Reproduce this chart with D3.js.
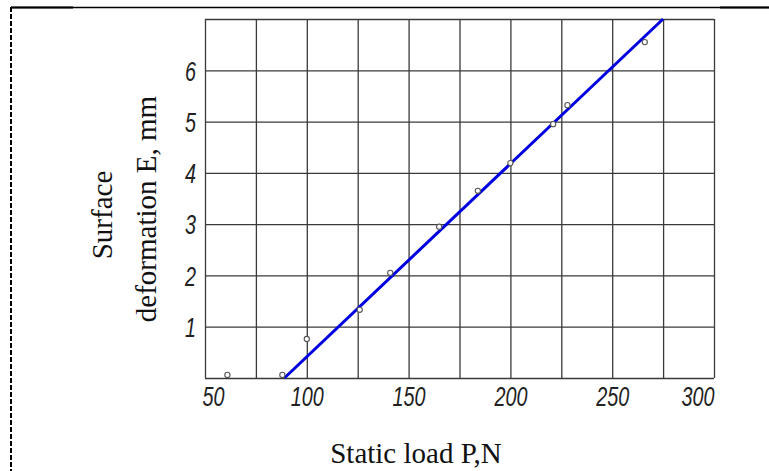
<!DOCTYPE html>
<html>
<head>
<meta charset="utf-8">
<script src="https://cdn.jsdelivr.net/npm/d3@7"></script>
<style>
  body { margin: 0; background: #fff; }
  .tick-label { font-family: "Liberation Sans Narrow", "Liberation Sans", sans-serif; font-style: italic; font-size: 27px; fill: #222; }
  .title { font-family: "Liberation Serif", "Times New Roman", serif; font-size: 29px; fill: #111; }
</style>
</head>
<body>
<div id="chart"></div>
<script>
// measured points: static load P (N) vs surface deformation E (mm)
const loadP   = [61, 88, 100, 126, 141, 165, 184, 200, 221, 228, 266]
const deformE = [0.06, 0.06, 0.76, 1.33, 2.05, 2.95, 3.65, 4.19, 4.95, 5.32, 6.55]

// fitted straight line, end points
const fitP = [89, 275]
const fitE = [0, 7]

const xTickLabels = [50, 100, 150, 200, 250, 300]
const yTickLabels = [1, 2, 3, 4, 5, 6]

const W = 769, H = 471
const MARGIN = { TOP: 19, BOTTOM: 93, LEFT: 205, RIGHT: 55 }
const WIDTH = W - MARGIN.LEFT - MARGIN.RIGHT
const HEIGHT = H - MARGIN.TOP - MARGIN.BOTTOM
const DIGIT_W = 11   // narrow drafting digits

const svg = d3.select("#chart").append("svg")
    .attr("width", W)
    .attr("height", H)

// page frame bits
svg.append("line")
    .attr("x1", 11).attr("x2", 769).attr("y1", 7.5).attr("y2", 7.5)
    .attr("stroke", "#000").attr("stroke-width", 1.3)
svg.append("line")
    .attr("x1", 11).attr("x2", 73).attr("y1", 7.5).attr("y2", 7.5)
    .attr("stroke", "#000").attr("stroke-width", 2.2)
svg.append("line")
    .attr("x1", 720).attr("x2", 769).attr("y1", 7.5).attr("y2", 7.5)
    .attr("stroke", "#000").attr("stroke-width", 2.2)
svg.append("line")
    .attr("x1", 11).attr("x2", 11).attr("y1", 7).attr("y2", H)
    .attr("stroke", "#000").attr("stroke-width", 2)
    .attr("stroke-dasharray", "5,2")

const g = svg.append("g")
    .attr("transform", `translate(${MARGIN.LEFT}, ${MARGIN.TOP})`)

const x = d3.scaleLinear().domain([50, 300]).range([0, WIDTH])
const y = d3.scaleLinear().domain([0, 7]).range([HEIGHT, 0])

// grid
g.append("g")
    .attr("transform", `translate(0, ${HEIGHT})`)
    .call(d3.axisBottom(x).tickValues(d3.range(50, 301, 25)).tickSize(-HEIGHT).tickFormat(""))
g.append("g")
    .call(d3.axisLeft(y).tickValues(d3.range(0, 8, 1)).tickSize(-WIDTH).tickFormat(""))
g.selectAll(".domain").remove()
g.selectAll(".tick line").attr("stroke", "#3a3a3a").attr("stroke-width", 1.3)

// tick labels
const xAxis = g.append("g")
    .attr("transform", `translate(0, ${HEIGHT})`)
    .call(d3.axisBottom(x).tickValues(xTickLabels).tickSize(0).tickPadding(0).tickFormat(d3.format("d")))
xAxis.select(".domain").remove()
xAxis.selectAll("text")
    .attr("class", "tick-label")
    .attr("dy", null)
    .attr("y", 28)
    .attr("text-anchor", (d, i) => i === 0 ? "start" : (i === xTickLabels.length - 1 ? "end" : "middle"))
    .attr("dx", (d, i) => i === 0 ? -3 : 0)
    .attr("textLength", d => String(d).length * DIGIT_W)
    .attr("lengthAdjust", "spacingAndGlyphs")

const yAxis = g.append("g")
    .call(d3.axisLeft(y).tickValues(yTickLabels).tickSize(0).tickPadding(9).tickFormat(d3.format("d")))
yAxis.select(".domain").remove()
yAxis.selectAll("text")
    .attr("class", "tick-label")
    .attr("dy", "0.36em")
    .attr("textLength", d => String(d).length * DIGIT_W)
    .attr("lengthAdjust", "spacingAndGlyphs")

// fit line
g.append("line")
    .attr("x1", x(fitP[0])).attr("y1", y(fitE[0]))
    .attr("x2", x(fitP[1])).attr("y2", y(fitE[1]))
    .attr("stroke", "#0000e0")
    .attr("stroke-width", 3)

// points
g.selectAll("circle")
    .data(loadP.map((p, i) => ({ p, e: deformE[i] })))
    .enter().append("circle")
        .attr("cx", d => x(d.p))
        .attr("cy", d => y(d.e))
        .attr("r", 2.6)
        .attr("fill", "#fff")
        .attr("stroke", "#555")
        .attr("stroke-width", 1.1)

// axis titles
svg.append("text")
    .attr("class", "title")
    .attr("x", 416)
    .attr("y", 463)
    .attr("text-anchor", "middle")
    .text("Static load P,N")

svg.append("text")
    .attr("class", "title")
    .attr("transform", "translate(112, 215) rotate(-90)")
    .attr("text-anchor", "middle")
    .text("Surface")

svg.append("text")
    .attr("class", "title")
    .attr("transform", "translate(156, 209) rotate(-90)")
    .attr("text-anchor", "middle")
    .text("deformation E, mm")
</script>
</body>
</html>
